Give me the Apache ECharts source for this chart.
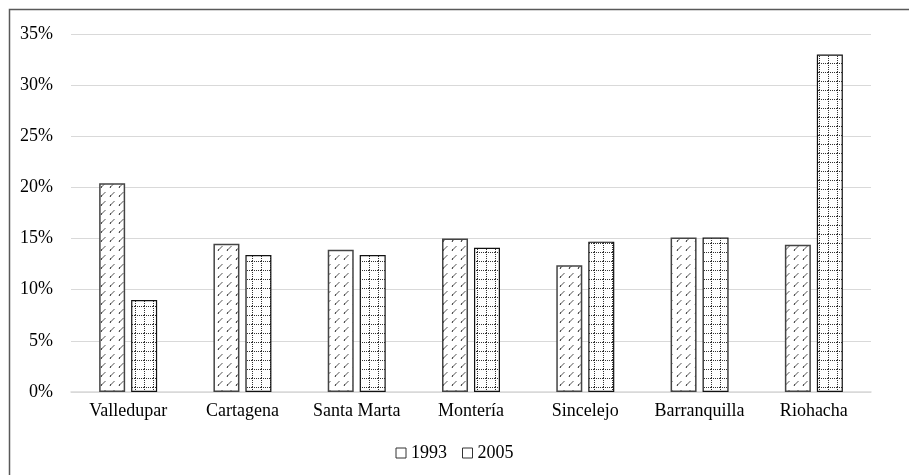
<!DOCTYPE html>
<html>
<head>
<meta charset="utf-8">
<script src="https://cdn.jsdelivr.net/npm/echarts@6/dist/echarts.min.js"></script>
<style>
html,body{margin:0;padding:0;background:#fff;}
#chart{width:909px;height:475px;}
</style>
</head>
<body>
<div id="chart"></div>
<script>
var categories = ['Valledupar', 'Cartagena', 'Santa Marta', 'Montería', 'Sincelejo', 'Barranquilla', 'Riohacha'];
var values1993 = [20.4, 14.5, 13.9, 15.0, 12.4, 15.1, 14.4];
var values2005 = [9.0, 13.4, 13.4, 14.1, 14.7, 15.1, 33.0];
var yTicks = [0, 5, 10, 15, 20, 25, 30, 35];

function diagPattern() {
  var c = document.createElement('canvas');
  c.width = 9; c.height = 9;
  var g = c.getContext('2d');
  g.fillStyle = '#fff'; g.fillRect(0, 0, 9, 9);
  g.strokeStyle = '#555'; g.lineWidth = 1;
  g.beginPath(); g.moveTo(2, 7.5); g.lineTo(6.5, 3); g.stroke();
  g.fillStyle = '#555'; g.fillRect(2, 6, 1, 2);
  return c;
}
function gridPattern() {
  var c = document.createElement('canvas');
  c.width = 9; c.height = 9;
  var g = c.getContext('2d');
  g.fillStyle = '#fff'; g.fillRect(0, 0, 9, 9);
  g.fillStyle = '#333';
  for (var i = 0; i < 9; i += 2) { g.fillRect(i, 0, 1, 1); g.fillRect(0, i, 1, 1); }
  return c;
}

var chart = echarts.init(document.getElementById('chart'), null, {renderer: 'canvas'});
var font = 'Liberation Serif';
chart.setOption({
  animation: false,
  backgroundColor: '#fff',
  graphic: [{
    type: 'rect', left: 7, top: 7, shape: {width: 940, height: 500},
    style: {fill: 'none', stroke: '#595959', lineWidth: 1.5}, silent: true, z: 0
  }],
  grid: {left: 71, right: 38, top: 34, bottom: 83, containLabel: false},
  legend: {
    bottom: 8, left: 'center', itemWidth: 10, itemHeight: 10, itemGap: 15,
    icon: 'rect',
    textStyle: {fontFamily: font, fontSize: 18, color: '#000', padding: [0, 0, 0, 0]},
    data: [
      {name: '1993', itemStyle: {color: '#fff', borderColor: '#333', borderWidth: 1}},
      {name: '2005', itemStyle: {color: '#fff', borderColor: '#333', borderWidth: 1}}
    ]
  },
  xAxis: {
    type: 'category', data: categories,
    axisLine: {lineStyle: {color: '#d9d9d9', width: 1.5}},
    axisTick: {show: false},
    axisLabel: {interval: 0, fontFamily: font, fontSize: 18, color: '#000', margin: 10}
  },
  yAxis: {
    type: 'value', min: 0, max: 35, interval: 5,
    axisLine: {show: false}, axisTick: {show: false},
    splitLine: {lineStyle: {color: '#d9d9d9', width: 1}},
    axisLabel: {fontFamily: font, fontSize: 18, color: '#000', margin: 18,
      formatter: function (v) { return yTicks.indexOf(v) >= 0 ? v + '%' : ''; }}
  },
  series: [
    {name: '1993', type: 'bar', data: values1993, barWidth: 26, barGap: '23%',
      itemStyle: {color: {image: diagPattern(), repeat: 'repeat'}, borderColor: '#444', borderWidth: 1.5}},
    {name: '2005', type: 'bar', data: values2005, barWidth: 26, barGap: '23%',
      itemStyle: {color: {image: gridPattern(), repeat: 'repeat'}, borderColor: '#111', borderWidth: 1.2}}
  ]
});
</script>
</body>
</html>
